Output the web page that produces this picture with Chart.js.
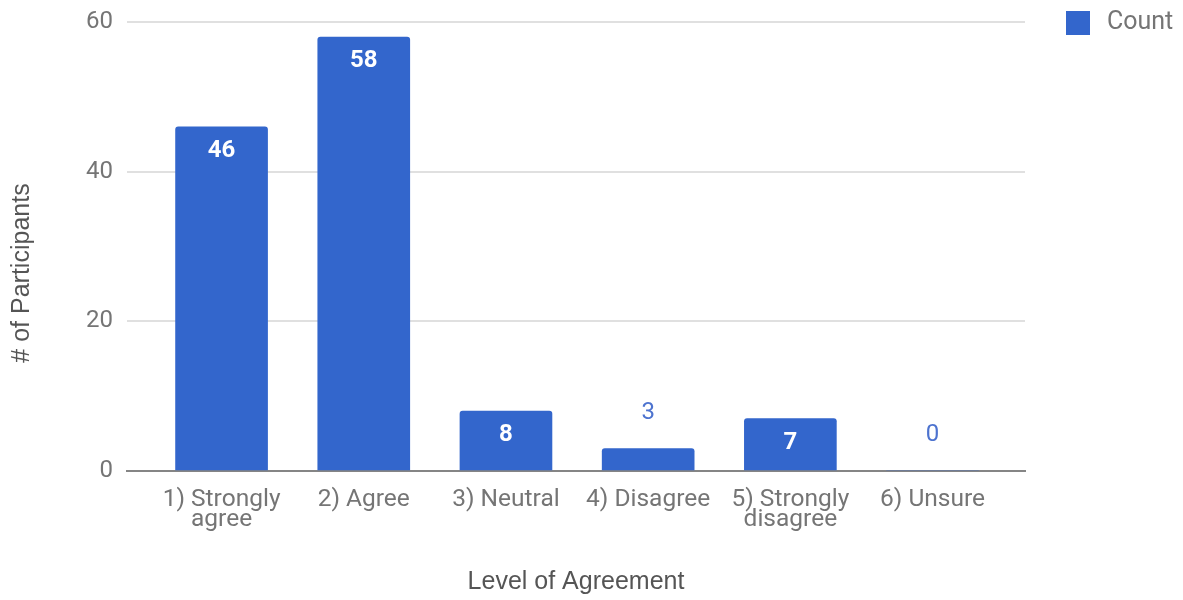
<!DOCTYPE html>
<html>
<head>
<meta charset="utf-8">
<script src="https://cdn.jsdelivr.net/npm/chart.js@4.4.1/dist/chart.umd.min.js"></script>
<style>
  html, body { margin: 0; padding: 0; background: #fff; }
  #wrap { width: 1183px; height: 600px; }
</style>
</head>
<body>
<div id="wrap"><canvas id="chart"></canvas></div>
<script>
const categories = [
  ['1) Strongly', 'agree'],
  '2) Agree',
  '3) Neutral',
  '4) Disagree',
  ['5) Strongly', 'disagree'],
  '6) Unsure'
];
const counts = [46, 58, 8, 3, 7, 0];
const yTicks = [0, 20, 40, 60];

const BAR_BLUE = '#3366cc';
const TICK_GREY = '#757575';
const TITLE_GREY = '#555555';

// value labels: white inside tall bars, blue above short ones
const valueLabels = {
  id: 'valueLabels',
  afterDatasetsDraw(chart) {
    const { ctx } = chart;
    const meta = chart.getDatasetMeta(0);
    ctx.save();
    ctx.textAlign = 'center';
    ctx.textBaseline = 'alphabetic';
    meta.data.forEach((bar, i) => {
      const v = counts[i];
      const h = bar.base - bar.y;
      if (h > 40) {
        ctx.fillStyle = '#ffffff';
        ctx.font = 'bold 24px Roboto';
        ctx.fillText(String(v), bar.x, bar.y + 30);
      } else {
        ctx.fillStyle = '#4d73cf';
        ctx.font = '24px Roboto';
        ctx.fillText(String(v), bar.x, bar.y - 30);
      }
    });
    ctx.restore();
  }
};

// y title and the single legend entry sit outside the plot area
const sideText = {
  id: 'sideText',
  afterDraw(chart) {
    const { ctx, chartArea } = chart;
    ctx.save();
    ctx.fillStyle = TITLE_GREY;
    ctx.font = '25px "Liberation Sans", Arial';
    ctx.textAlign = 'center';
    ctx.textBaseline = 'middle';
    ctx.translate(22, 273);
    ctx.rotate(-Math.PI / 2);
    ctx.fillText('# of Participants', 0, 0);
    ctx.restore();

    ctx.save();
    const lx = chartArea.right + 41;
    ctx.fillStyle = BAR_BLUE;
    ctx.fillRect(lx, 11, 24, 24);
    ctx.fillStyle = TICK_GREY;
    ctx.font = '25px Roboto';
    ctx.textBaseline = 'middle';
    ctx.fillText('Count', lx + 41, 23);
    ctx.restore();
  }
};

new Chart(document.getElementById('chart'), {
  type: 'bar',
  data: {
    datasets: [{
      label: 'Count',
      data: counts.map((c, i) => ({ x: i, y: c })),
      backgroundColor: BAR_BLUE,
      barThickness: 92,
      borderRadius: { topLeft: 3, topRight: 3 },
      borderSkipped: 'bottom'
    }]
  },
  options: {
    responsive: true,
    maintainAspectRatio: false,
    animation: false,
    layout: { padding: { top: 22, right: 158, left: 0, bottom: 0 } },
    scales: {
      x: {
        type: 'linear',
        min: -0.665,
        max: 5.65,
        offset: false,
        grid: { display: false },
        border: { display: true, color: '#858585', width: 2 },
        afterFit(scale) {
          scale.height = 129;
          scale.paddingLeft = 0;
          scale.paddingRight = 0;
        },
        ticks: {
          stepSize: 1,
          includeBounds: false,
          autoSkip: false,
          maxRotation: 0,
          padding: 10,
          color: TICK_GREY,
          font: { family: 'Roboto', size: 24.5, lineHeight: 0.85 },
          callback: (v) => Number.isInteger(v) && categories[v] !== undefined ? categories[v] : ''
        },
        title: {
          display: true,
          text: 'Level of Agreement',
          color: TITLE_GREY,
          font: { family: '"Liberation Sans", Arial', size: 25 },
          padding: { top: 0, bottom: 3 }
        }
      },
      y: {
        min: 0,
        max: 60,
        afterFit(scale) {
          scale.width = 127;
          scale.paddingTop = 0;
          scale.paddingBottom = 0;
        },
        afterBuildTicks(scale) { scale.ticks = yTicks.map(v => ({ value: v })); },
        grid: { color: '#e0e0e0', lineWidth: 2, drawTicks: false },
        border: { display: false },
        ticks: {
          padding: 14,
          color: TICK_GREY,
          font: { family: 'Roboto', size: 24 }
        }
      }
    },
    plugins: {
      legend: { display: false },
      tooltip: { enabled: false }
    }
  },
  plugins: [valueLabels, sideText]
});
</script>
</body>
</html>
